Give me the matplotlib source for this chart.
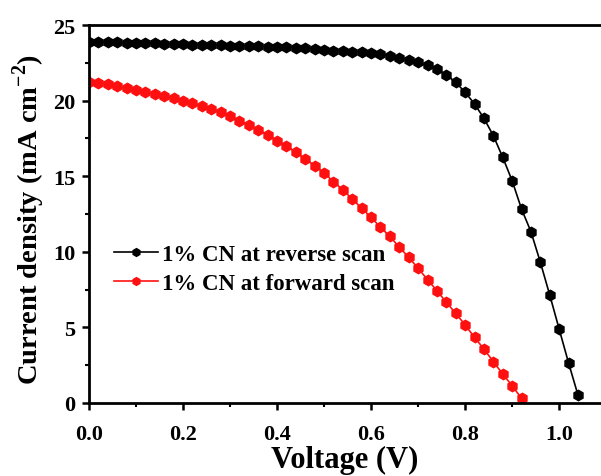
import matplotlib
matplotlib.use("Agg")
import matplotlib.pyplot as plt
from matplotlib.ticker import MultipleLocator

plt.rcParams['font.family'] = ['Liberation Serif', 'DejaVu Serif']
plt.rcParams['font.weight'] = 'bold'
plt.rcParams['mathtext.fontset'] = 'custom'
plt.rcParams['mathtext.rm'] = 'Liberation Serif:bold'
plt.rcParams['mathtext.bf'] = 'Liberation Serif:bold'

v_reverse = [0.00, 0.02, 0.04, 0.06, 0.08, 0.10, 0.12, 0.14, 0.16, 0.18,
             0.20, 0.22, 0.24, 0.26, 0.28, 0.30, 0.32, 0.34, 0.36, 0.38,
             0.40, 0.42, 0.44, 0.46, 0.48, 0.50, 0.52, 0.54, 0.56, 0.58,
             0.60, 0.62, 0.64, 0.66, 0.68, 0.70, 0.72, 0.74, 0.76, 0.78,
             0.80, 0.82, 0.84, 0.86, 0.88, 0.90, 0.92, 0.94, 0.96, 0.98,
             1.00, 1.02, 1.04]
j_reverse = [23.88, 23.87, 23.86, 23.85, 23.84, 23.82, 23.80, 23.79, 23.77, 23.75,
             23.72, 23.70, 23.69, 23.67, 23.66, 23.64, 23.62, 23.61, 23.59, 23.57,
             23.55, 23.53, 23.51, 23.48, 23.42, 23.37, 23.31, 23.28, 23.24, 23.20,
             23.15, 23.07, 22.97, 22.85, 22.70, 22.53, 22.33, 22.07, 21.70, 21.21,
             20.55, 19.78, 18.83, 17.68, 16.25, 14.70, 12.83, 11.33, 9.31, 7.14,
             4.89, 2.65, 0.53]

v_forward = [0.00, 0.02, 0.04, 0.06, 0.08, 0.10, 0.12, 0.14, 0.16, 0.18,
             0.20, 0.22, 0.24, 0.26, 0.28, 0.30, 0.32, 0.34, 0.36, 0.38,
             0.40, 0.42, 0.44, 0.46, 0.48, 0.50, 0.52, 0.54, 0.56, 0.58,
             0.60, 0.62, 0.64, 0.66, 0.68, 0.70, 0.72, 0.74, 0.76, 0.78,
             0.80, 0.82, 0.84, 0.86, 0.88, 0.90, 0.92]
j_forward = [21.21, 21.16, 21.10, 20.94, 20.81, 20.72, 20.55, 20.44, 20.32, 20.15,
             19.99, 19.84, 19.62, 19.44, 19.22, 18.96, 18.67, 18.39, 18.08, 17.73,
             17.35, 17.00, 16.58, 16.14, 15.70, 15.21, 14.64, 14.09, 13.49, 12.88,
             12.28, 11.62, 11.02, 10.30, 9.64, 8.91, 8.16, 7.43, 6.66, 5.93,
             5.16, 4.34, 3.57, 2.73, 1.92, 1.14, 0.31]

labels = ['1% CN at reverse scan', '1% CN at forward scan']
colors = ['black', '#ff1010']

fig = plt.figure(figsize=(6.01, 4.77), dpi=100)
ax = fig.add_axes([89/601, 73/477, 1 - 89/601, 378/477])

ax.plot(v_reverse, j_reverse, color=colors[0], lw=1.2, marker='h',
        markersize=7.5, label=labels[0])
ax.plot(v_forward, j_forward, color=colors[1], lw=1.2, marker='h',
        markersize=7.5, label=labels[1])

ax.set_xlim(0, 1.089)
ax.set_ylim(0, 25)
ax.xaxis.set_major_locator(MultipleLocator(0.2))
ax.xaxis.set_minor_locator(MultipleLocator(0.1))
ax.yaxis.set_major_locator(MultipleLocator(5))
ax.yaxis.set_minor_locator(MultipleLocator(2.5))
ax.xaxis.set_major_formatter(matplotlib.ticker.FormatStrFormatter('%.1f'))

for s in ['left', 'bottom', 'top']:
    ax.spines[s].set_linewidth(2)
ax.spines['right'].set_visible(False)
ax.tick_params(which='major', direction='out', length=5, width=1.8, labelsize=16)
ax.tick_params(axis='x', which='major', pad=10)
ax.tick_params(axis='y', which='major', pad=5)
ax.tick_params(which='minor', direction='out', length=3, width=1.5)
ax.tick_params(top=False, right=False, which='both')

ax.set_xlabel('Voltage (V)', fontsize=22, fontweight='bold', labelpad=1)
ax.set_ylabel('Current density (mA cm$^{-2}$)', fontsize=20.5, fontweight='bold')
ax.yaxis.set_label_coords(-0.082, 0.488)

leg = ax.legend(loc='upper left', bbox_to_anchor=(0.049, 0.42), frameon=False,
                fontsize=16.5, handlelength=1.9, handletextpad=0.2, labelspacing=0.35,
                borderaxespad=0, borderpad=0, markerscale=0.75)

fig.savefig('out.png', dpi=100)
